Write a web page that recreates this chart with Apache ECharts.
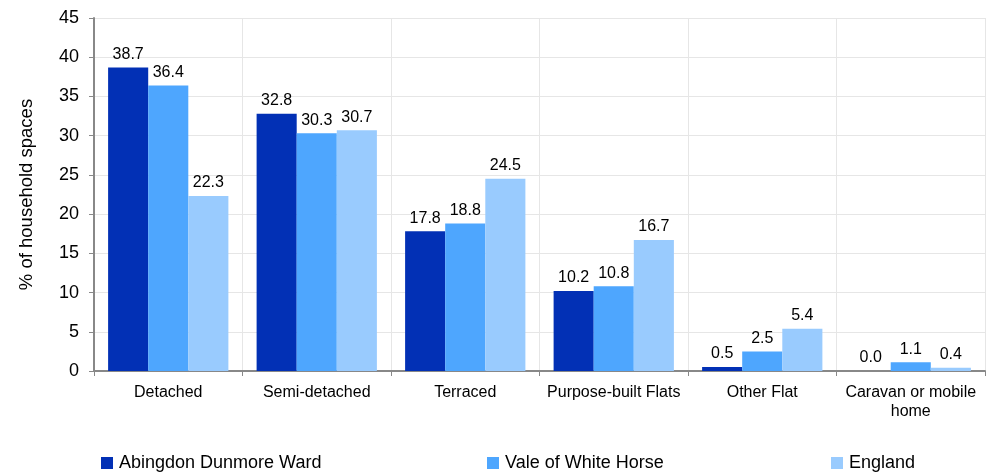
<!DOCTYPE html>
<html><head><meta charset="utf-8">
<script src="https://cdn.jsdelivr.net/npm/echarts@6/dist/echarts.min.js"></script>
<style>html,body{margin:0;padding:0;background:#fff}#c{width:988px;height:472px}</style>
</head><body><div id="c"></div>
<script>
var categories = ['Detached','Semi-detached','Terraced','Purpose-built Flats','Other Flat','Caravan or mobile\nhome'];
var seriesNames = ['Abingdon Dunmore Ward','Vale of White Horse','England'];
var ward = [38.7, 32.8, 17.8, 10.2, 0.5, 0.0];
var vale = [36.4, 30.3, 18.8, 10.8, 2.5, 1.1];
var england = [22.3, 30.7, 24.5, 16.7, 5.4, 0.4];
var yTicks = [0, 5, 10, 15, 20, 25, 30, 35, 40, 45];
var colors = ['#0230B5', '#4EA6FE', '#99CBFE'];
var font = 'Liberation Sans, Arial, sans-serif';
var chart = echarts.init(document.getElementById('c'));
function mk(name, data, color) {
  return {name: name, type: 'bar', data: data, barGap: '0%', barCategoryGap: '19%',
    itemStyle: {color: color},
    label: {show: true, position: 'top', distance: 5, color: '#000', fontFamily: font, fontSize: 16,
      formatter: function(p){ return p.value.toFixed(1); }}};
}
function lg(name, left) {
  return {data: [name], left: left, top: 454, padding: 0, itemWidth: 12, itemHeight: 12, icon: 'rect',
    textStyle: {fontSize: 18, color: '#000', fontFamily: font, padding: [0, 0, 0, 1]}};
}
chart.setOption({
  animation: false,
  textStyle: {fontFamily: font},
  grid: {left: 94, right: 3, top: 18, bottom: 101},
  legend: [lg(seriesNames[0], 101), lg(seriesNames[1], 487), lg(seriesNames[2], 831)],
  xAxis: {type: 'category', data: categories,
    axisLine: {lineStyle: {color: '#888', width: 2}},
    axisTick: {show: true, length: 5, lineStyle: {color: '#888'}},
    splitLine: {show: true, lineStyle: {color: '#e6e6e6'}},
    axisLabel: {color: '#000', fontSize: 16, fontFamily: font, margin: 12, lineHeight: 19, interval: 0}},
  yAxis: {type: 'value', min: yTicks[0], max: yTicks[yTicks.length - 1], interval: yTicks[1] - yTicks[0],
    name: '% of household spaces', nameLocation: 'middle', nameGap: 58, nameRotate: 90,
    nameTextStyle: {color: '#000', fontSize: 18.5, fontFamily: font},
    axisLine: {show: true, lineStyle: {color: '#888', width: 2}},
    axisTick: {show: true, length: 5, lineStyle: {color: '#888'}},
    splitLine: {show: true, lineStyle: {color: '#e6e6e6'}},
    axisLabel: {color: '#000', fontSize: 18, fontFamily: font, margin: 15}},
  series: [mk(seriesNames[0], ward, colors[0]), mk(seriesNames[1], vale, colors[1]), mk(seriesNames[2], england, colors[2])]
});
</script></body></html>
